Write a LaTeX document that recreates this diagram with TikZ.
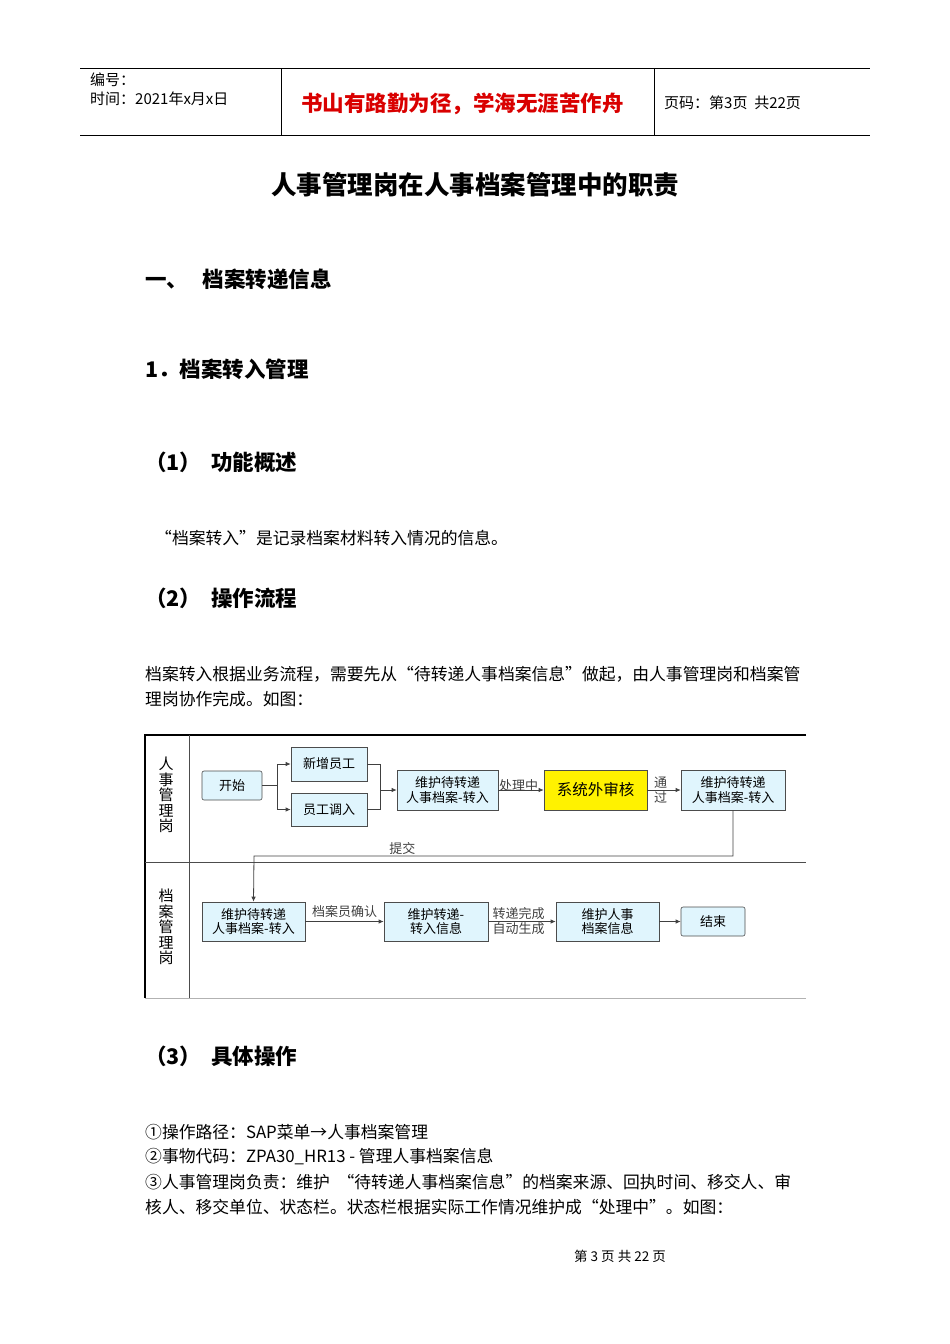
\documentclass[tikz,border=0pt]{standalone}
\usepackage{fontspec}
\setmainfont{Liberation Serif}
\newfontfamily\cjk{Noto Sans CJK SC}
\usetikzlibrary{arrows.meta}
\begin{document}
\begin{tikzpicture}[x=1pt,y=-1pt,
 box/.style={draw=black!70,fill=cyan!12,line width=0.6pt,minimum width=#1,minimum height=38pt,inner sep=1pt,font=\cjk\fontsize{13}{14.5}\selectfont,align=center},
 box/.default=100pt,
 arr/.style={-{Latex[length=5pt,width=4.5pt]},line width=0.8pt,black!75},
 lbl/.style={font=\cjk\fontsize{13}{14.5}\selectfont,inner sep=1pt},
 txt/.style={font=\cjk\fontsize{16.8}{18}\selectfont,anchor=west,inner sep=0},
 head/.style={font=\cjk\bfseries\fontsize{21.5}{24}\selectfont,anchor=west,inner sep=0}]
\useasboundingbox (0,0) rectangle (950,1344);
% header
\draw[line width=0.5pt] (80,68) -- (870,68) (80,135) -- (870,135) (281,68) -- (281,135) (654,68) -- (654,135);
\node[txt,font=\cjk\fontsize{15}{16}\selectfont] (h1) at (90,80) {编号：};
\node[txt,font=\cjk\fontsize{15}{16}\selectfont] (h2) at (90,99) {时间：2021年x月x日};
\node[txt,font=\cjk\bfseries\fontsize{21.5}{24}\selectfont,text=red!85!black] (h3) at (301,104) {书山有路勤为径，学海无涯苦作舟};
\node[txt,font=\cjk\fontsize{15}{16}\selectfont] (h4) at (664,103) {页码：第3页\ \ 共22页};
% titles
\node[font=\cjk\bfseries\fontsize{25.5}{28}\selectfont] (t) at (475,185) {人事管理岗在人事档案管理中的职责};
\node[head] (s1) at (145,279) {一、\ \ \ 档案转递信息};
\node[head] (s2) at (145,369) {1．档案转入管理};
\node[head] (s3) at (145,462) {（1）\ \ 功能概述};
\node[txt] (p1) at (155,538) {“档案转入”是记录档案材料转入情况的信息。};
\node[head] (s4) at (145,598) {（2）\ \ 操作流程};
\node[txt] (p2) at (145,674) {档案转入根据业务流程，需要先从“待转递人事档案信息”做起，由人事管理岗和档案管};
\node[txt] (p3) at (145,699) {理岗协作完成。如图：};
% diagram frame
\draw[line width=1.6pt] (806,735) -- (145,735) -- (145,998);
\draw[black!30,line width=0.5pt] (145,998) -- (806,998);
\draw[black!70,line width=0.8pt] (145,862) -- (806,862) (189,735) -- (189,998);
\node[font=\cjk\fontsize{15}{15.5}\selectfont,align=center] (l1) at (166,795) {人\\事\\管\\理\\岗};
\node[font=\cjk\fontsize{15}{15.5}\selectfont,align=center] (l2) at (166,927) {档\\案\\管\\理\\岗};
% nodes
\node[box=60pt,minimum height=29pt,rounded corners=2pt] (start) at (232,785.5) {开始};
\node[box=76pt,minimum height=34pt] (xz) at (329,764) {新增员工};
\node[box=76pt,minimum height=33pt] (dr) at (329,809.5) {员工调入};
\node[box=101pt,minimum height=40pt] (a1) at (447.5,790) {维护待转递\\人事档案-转入};
\node[box=103pt,minimum height=40pt,fill=yellow,font=\cjk\fontsize{15.5}{17}\selectfont] (sh) at (595.5,790) {系统外审核};
\node[box=104pt,minimum height=40pt] (a2) at (733,790) {维护待转递\\人事档案-转入};
\node[box=103pt,minimum height=39pt] (b1) at (253.5,921.5) {维护待转递\\人事档案-转入};
\node[box=104pt,minimum height=39pt] (b2) at (436,921.5) {维护转递-\\转入信息};
\node[box=103pt,minimum height=39pt] (b3) at (607.5,921.5) {维护人事\\档案信息};
\node[box=64pt,minimum height=29pt,rounded corners=2pt] (end) at (713,921.5) {结束};
% edges
\coordinate (j1) at (277,785.5);
\coordinate (j2) at (380,790);
\draw[black!75,line width=0.8pt] (start.east) -- (j1);
\draw[arr] (j1) |- (xz.west);
\draw[arr] (j1) |- (dr.west);
\draw[black!75,line width=0.8pt] (xz.east) -| (j2);
\draw[black!75,line width=0.8pt] (dr.east) -| (j2);
\draw[arr] (j2) -- (a1.west);
\draw[arr] (a1.east) -- node[lbl,above,pos=0.45,yshift=-3pt] {处理中} (sh.west);
\draw[arr] (sh.east) -- node[lbl,align=center,font=\cjk\fontsize{13}{15}\selectfont,pos=0.4] {通\\过} (a2.west);
\coordinate (c1) at (733,856);
\coordinate (c2) at (254,856);
\draw[arr] (a2.south) -- (c1) -- node[lbl,above,pos=0.69] {提交} (c2) -- (b1.north);
\draw[arr] (b1.east) -- node[lbl,above,yshift=3pt] {档案员确认} (b2.west);
\draw[arr] (b2.east) -- node[lbl,align=center,font=\cjk\fontsize{13}{15}\selectfont,pos=0.45] {转递完成\\自动生成} (b3.west);
\draw[arr] (b3.east) -- (end.west);
% lower text
\node[head] (s5) at (145,1056) {（3）\ \ 具体操作};
\node[txt] (q1) at (145,1132) {①操作路径：SAP菜单→人事档案管理};
\node[txt] (q2) at (145,1157) {②事物代码：ZPA30\_HR13 - 管理人事档案信息};
\node[txt] (q3) at (145,1182) {③人事管理岗负责：维护\ \ “待转递人事档案信息”的档案来源、回执时间、移交人、审};
\node[txt] (q4) at (145,1207) {核人、移交单位、状态栏。状态栏根据实际工作情况维护成“处理中”。如图：};
\node[font=\cjk\fontsize{13.5}{15}\selectfont] (ft) at (620,1256) {第\ 3\ 页\ 共\ 22\ 页};
\end{tikzpicture}
\end{document}
